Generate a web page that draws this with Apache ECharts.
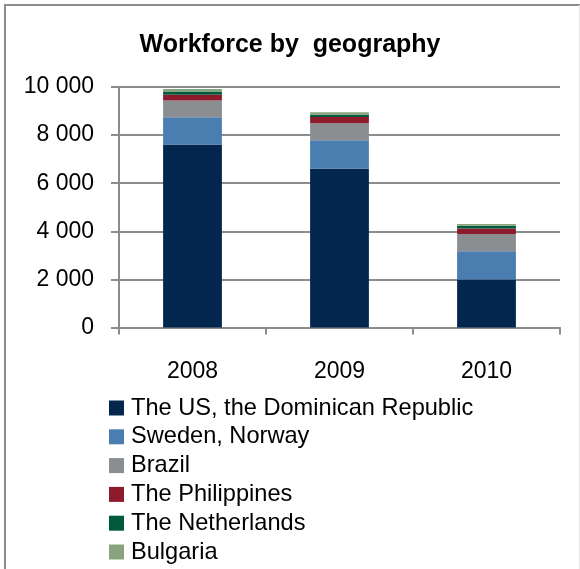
<!DOCTYPE html>
<html>
<head>
<meta charset="utf-8">
<script src="https://cdn.jsdelivr.net/npm/echarts@6/dist/echarts.min.js"></script>
<style>
  html, body { margin: 0; padding: 0; background: #ffffff; }
  #chart { width: 580px; height: 569px; }
</style>
</head>
<body>
<div id="chart"></div>
<script>
// Workforce headcount per year, split by region (stacked from the bottom up)
const years = ['2008', '2009', '2010'];
const usDominican = [7610, 6600, 2000];
const swedenNorway = [1130, 1190, 1170];
const brazil = [700, 700, 720];
const philippines = [235, 260, 230];
const netherlands = [135, 100, 110];
const bulgaria = [110, 95, 70];

const regionNames = [
  'The US, the Dominican Republic',
  'Sweden, Norway',
  'Brazil',
  'The Philippines',
  'The Netherlands',
  'Bulgaria'
];
const regionValues = [usDominican, swedenNorway, brazil, philippines, netherlands, bulgaria];
const regionColors = ['#03264f', '#4a7eb0', '#8b8e91', '#8e1b2b', '#015a3d', '#88a47e'];

const font = 'Liberation Sans';
const axisGray = '#8c8c8c';

function spaceThousands(v) {
  return String(v).replace(/\B(?=(\d{3})+(?!\d))/g, ' ');
}

const chart = echarts.init(document.getElementById('chart'), null, { renderer: 'canvas' });

chart.setOption({
  animation: false,
  backgroundColor: '#ffffff',
  title: {
    text: 'Workforce by  geography',
    left: 'center',
    top: 28,
    textStyle: { fontFamily: font, fontWeight: 'bold', fontSize: 25, color: '#000000' }
  },
  graphic: [
    { type: 'polyline', shape: { points: [[5, 580], [5, 5], [580, 5]] },
      style: { stroke: axisGray, lineWidth: 2, fill: null } },
    { type: 'line', shape: { x1: 579.5, y1: 5, x2: 579.5, y2: 569 },
      style: { stroke: '#e4e4e4', lineWidth: 1 } }
  ],
  grid: { left: 119, right: 20, top: 87, bottom: 241.5, containLabel: false },
  legend: {
    orient: 'vertical',
    left: 109,
    top: 396,
    padding: 0,
    itemWidth: 15,
    itemHeight: 15,
    itemGap: 4.8,
    icon: 'rect',
    data: regionNames,
    textStyle: { fontFamily: font, fontSize: 23.6, color: '#000000', lineHeight: 23, padding: [0, 0, 0, 2] }
  },
  xAxis: {
    type: 'category',
    data: years,
    axisLine: { lineStyle: { color: axisGray, width: 2 } },
    axisTick: { show: true, length: 7, lineStyle: { color: axisGray, width: 2 } },
    axisLabel: { fontFamily: font, fontSize: 23, color: '#000000', margin: 33 }
  },
  yAxis: {
    type: 'value',
    min: 0,
    max: 10000,
    interval: 2000,
    axisLine: { show: true, lineStyle: { color: axisGray, width: 2 } },
    axisTick: { show: true, length: 8, lineStyle: { color: axisGray, width: 2 } },
    splitLine: { lineStyle: { color: axisGray, width: 2 } },
    axisLabel: { fontFamily: font, fontSize: 23, color: '#000000', margin: 25, formatter: spaceThousands }
  },
  series: regionNames.map((name, i) => ({
    name: name,
    type: 'bar',
    stack: 'workforce',
    barWidth: '40%',
    data: regionValues[i],
    itemStyle: { color: regionColors[i] }
  }))
});
</script>
</body>
</html>
